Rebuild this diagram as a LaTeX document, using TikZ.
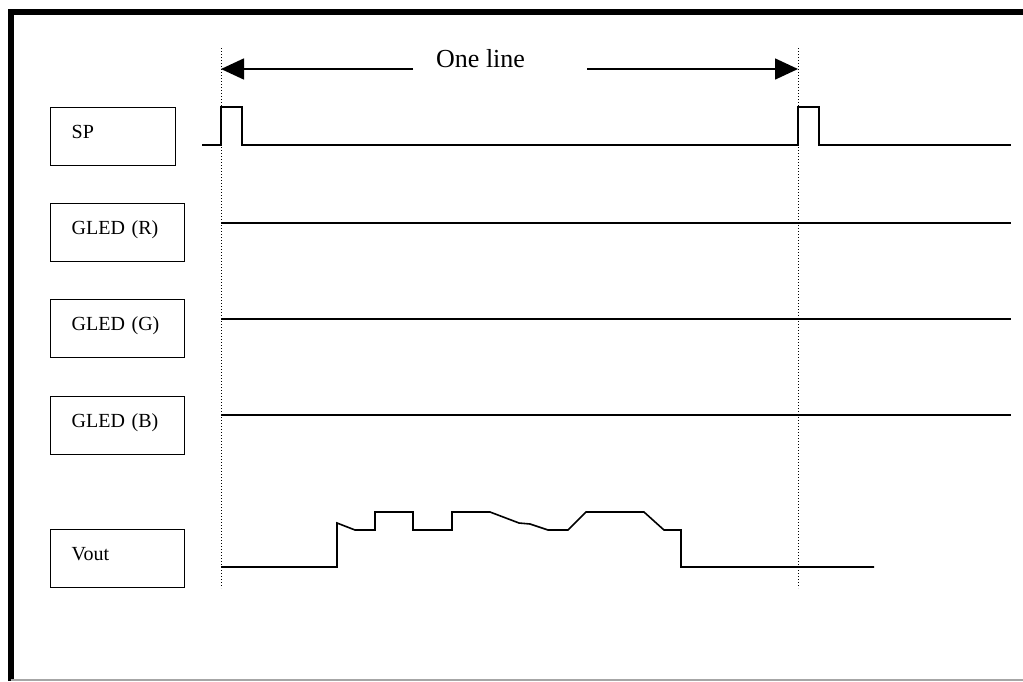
\documentclass[tikz,border=0pt]{standalone}
\usepackage{fontspec}
\setmainfont{Liberation Serif}
\usetikzlibrary{arrows.meta}

\begin{document}
\begin{tikzpicture}
[x=1pt,y=-1pt,
 sigbox/.style={draw,line width=1.3pt,anchor=north west,minimum height=58pt,inner xsep=21pt,align=left,
   text height=0.7em,text depth=0.35em,font=\fontsize{20}{24}\selectfont},
 wave/.style={line width=1.6pt},
 guide/.style={line width=1pt,dotted},
 span arrow/.style={line width=1.6pt,-{Triangle[length=23pt,width=21pt]}}]
\useasboundingbox (0,0) rectangle (1023,681);
% frame
\draw[line width=6pt] (10.5,681) -- (10.5,11.5) -- (1023,11.5);
\draw[gray!70,line width=1.2pt] (10.5,680) -- (1023,680);
% signal names
\node[sigbox,text width=83pt] (sp) at (50,107) {SP};
\node[sigbox,text width=92pt] (ledr) at (50,203) {GLED (R)};
\node[sigbox,text width=92pt] (ledg) at (50,299) {GLED (G)};
\node[sigbox,text width=92pt] (ledb) at (50,396) {GLED (B)};
\node[sigbox,text width=92pt] (vout) at (50,529) {Vout};
% one line period
\coordinate (t0) at (221,48);
\coordinate (t0end) at (221,588);
\coordinate (t1) at (798,48);
\coordinate (t1end) at (798,588);
\coordinate (a0) at (221,69);
\coordinate (a1) at (798,69);
\coordinate (g0) at (413,69);
\coordinate (g1) at (587,69);
\node[font=\fontsize{26}{30}\selectfont,anchor=base west,inner sep=0pt] (span) at (436,67) {One line};
\draw[guide] (t0) -- (t0end);
\draw[guide] (t1) -- (t1end);
\draw[span arrow] (g0) -- (a0);
\draw[span arrow] (g1) -- (a1);
% waveforms
\draw[wave] (202,145) -- (221,145) -- (221,107) -- (242,107) -- (242,145) -- (798,145)
  -- (798,107) -- (819,107) -- (819,145) -- (1011,145);
\foreach \y in {223,319,415}
\draw[wave] (221,\y) -- (1011,\y);
\draw[wave] (221,567) -- (337,567) -- (337,523) -- (355,530) -- (375,530) -- (375,512)
  -- (413,512) -- (413,530) -- (452,530) -- (452,512) -- (490,512) -- (519,523)
  -- (530,524) -- (548,530) -- (568,530) -- (586,512) -- (644,512) -- (664,530)
  -- (681,530) -- (681,567) -- (874,567);
\end{tikzpicture}
\end{document}
